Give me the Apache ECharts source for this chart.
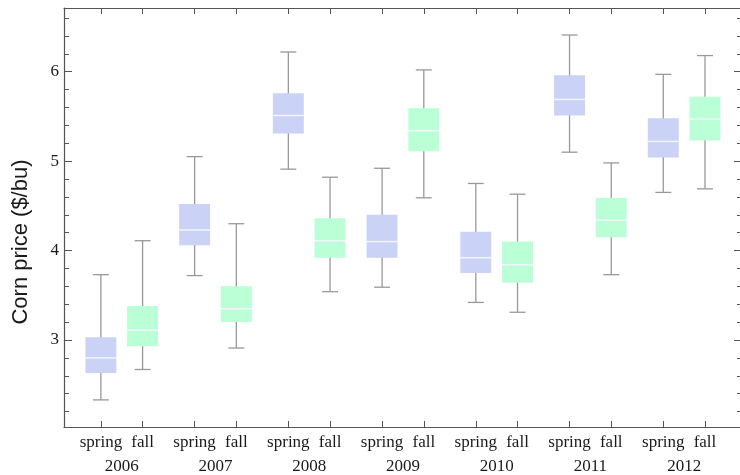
<!DOCTYPE html>
<html>
<head>
<meta charset="utf-8">
<script src="https://cdn.jsdelivr.net/npm/echarts@6/dist/echarts.min.js"></script>
<style>html,body{margin:0;padding:0;background:#fff;overflow:hidden;}#chart{width:743px;height:475px;}</style>
</head>
<body>
<div id="chart"></div>
<script>
// ---- data ----
const years = [2006, 2007, 2008, 2009, 2010, 2011, 2012];
const seasons = ['spring', 'fall'];
// [low whisker, Q1, median, Q3, high whisker]
const springStats = [
  [2.33, 2.63, 2.80, 3.03, 3.73],
  [3.72, 4.06, 4.23, 4.52, 5.05],
  [4.91, 5.31, 5.51, 5.76, 6.22],
  [3.59, 3.92, 4.10, 4.40, 4.92],
  [3.42, 3.75, 3.92, 4.21, 4.75],
  [5.10, 5.51, 5.69, 5.96, 6.41],
  [4.65, 5.04, 5.22, 5.48, 5.97]
];
const fallStats = [
  [2.67, 2.93, 3.11, 3.38, 4.11],
  [2.91, 3.20, 3.35, 3.60, 4.30],
  [3.54, 3.92, 4.11, 4.36, 4.82],
  [4.59, 5.11, 5.34, 5.59, 6.02],
  [3.31, 3.64, 3.84, 4.10, 4.63],
  [3.73, 4.15, 4.34, 4.59, 4.98],
  [4.69, 5.23, 5.47, 5.72, 6.18]
];
const yMajorTicks = [3, 4, 5, 6];
const yMinorTicks = [2.2, 2.4, 2.6, 2.8, 3.2, 3.4, 3.6, 3.8, 4.2, 4.4, 4.6, 4.8, 5.2, 5.4, 5.6, 5.8, 6.2, 6.4, 6.6];
const yName = 'Corn price ($/bu)';

// ---- layout constants ----
const SEASON_OFFSET = 0.2225;
const BOX_W = 0.33;
const CAP_W = 0.17;
const X_MIN = 2005.384, X_MAX = 2012.628;
const Y_MIN = 2.027, Y_MAX = 6.712;
const FRAME = '#555';
const TXT = '#1a1a1a';
const SERIF = 'Liberation Serif';

const springPos = years.map(y => y - SEASON_OFFSET);
const fallPos = years.map(y => y + SEASON_OFFSET);
const allPos = springPos.concat(fallPos).sort((a, b) => a - b);

function mkData(pos, stats) {
  return pos.map((x, i) => [x].concat(stats[i]));
}

function renderBox(fill) {
  return function (params, api) {
    const x = api.value(0);
    const lo = api.coord([x, api.value(1)]);
    const q1 = api.coord([x, api.value(2)]);
    const md = api.coord([x, api.value(3)]);
    const q3 = api.coord([x, api.value(4)]);
    const hi = api.coord([x, api.value(5)]);
    const bw = api.size([BOX_W, 0])[0];
    const cw = api.size([CAP_W, 0])[0];
    const cx = lo[0];
    const lineStyle = { stroke: '#999', lineWidth: 1.3 };
    return {
      type: 'group',
      children: [
        { type: 'line', shape: { x1: cx, y1: hi[1], x2: cx, y2: lo[1] }, style: lineStyle },
        { type: 'line', shape: { x1: cx - cw / 2, y1: hi[1], x2: cx + cw / 2, y2: hi[1] }, style: lineStyle },
        { type: 'line', shape: { x1: cx - cw / 2, y1: lo[1], x2: cx + cw / 2, y2: lo[1] }, style: lineStyle },
        { type: 'rect', shape: { x: cx - bw / 2, y: q3[1], width: bw, height: q1[1] - q3[1] }, style: { fill: fill } },
        { type: 'line', shape: { x1: cx - bw / 2, y1: md[1], x2: cx + bw / 2, y2: md[1] }, style: { stroke: '#f4f6ff', lineWidth: 1.5 } }
      ]
    };
  };
}

const chart = echarts.init(document.getElementById('chart'), null, { renderer: 'canvas' });

const baseX = { type: 'value', min: X_MIN, max: X_MAX, splitLine: { show: false } };
const baseY = { type: 'value', min: Y_MIN, max: Y_MAX, splitLine: { show: false } };

chart.setOption({
  animation: false,
  backgroundColor: '#fff',
  grid: { left: 64, right: 0, top: 8, bottom: 48, containLabel: false },
  xAxis: [
    Object.assign({}, baseX, {
      position: 'bottom',
      axisLine: { show: true, lineStyle: { color: FRAME, width: 1.2 } },
      axisTick: { show: true, inside: true, length: 6, customValues: allPos, lineStyle: { color: FRAME } },
      axisLabel: {
        show: true, customValues: allPos, margin: 7,
        color: TXT, fontFamily: SERIF, fontSize: 17,
        formatter: v => (v < Math.round(v) ? seasons[0] : seasons[1])
      }
    }),
    Object.assign({}, baseX, {
      position: 'bottom',
      axisLine: { show: false }, axisTick: { show: false },
      axisLabel: { show: true, customValues: years, margin: 31, color: TXT, fontFamily: SERIF, fontSize: 17, formatter: v => String(Math.round(v)) }
    }),
    Object.assign({}, baseX, {
      position: 'top',
      axisLine: { show: true, lineStyle: { color: FRAME, width: 1.2 } },
      axisTick: { show: true, inside: true, length: 6, customValues: allPos, lineStyle: { color: FRAME } },
      axisLabel: { show: false }
    })
  ],
  yAxis: [
    Object.assign({}, baseY, {
      position: 'left',
      axisLine: { show: true, lineStyle: { color: FRAME, width: 1.2 } },
      axisTick: { show: true, inside: true, length: 8, customValues: yMajorTicks, lineStyle: { color: FRAME } },
      axisLabel: { show: true, customValues: yMajorTicks, margin: 5, color: TXT, fontFamily: SERIF, fontSize: 17 }
    }),
    Object.assign({}, baseY, {
      position: 'left',
      axisLine: { show: false },
      axisTick: { show: true, inside: true, length: 5, customValues: yMinorTicks, lineStyle: { color: FRAME } },
      axisLabel: { show: false }
    }),
    Object.assign({}, baseY, {
      position: 'right',
      axisLine: { show: true, lineStyle: { color: FRAME, width: 1.2 } },
      axisTick: { show: true, inside: true, length: 9, customValues: yMajorTicks, lineStyle: { color: FRAME } },
      axisLabel: { show: false }
    }),
    Object.assign({}, baseY, {
      position: 'right',
      axisLine: { show: false },
      axisTick: { show: true, inside: true, length: 6, customValues: yMinorTicks, lineStyle: { color: FRAME } },
      axisLabel: { show: false }
    })
  ],
  graphic: [{
    type: 'text', x: 21, y: 242, rotation: Math.PI / 2,
    style: { text: yName, fontFamily: 'Liberation Sans', fontSize: 22, fill: TXT, align: 'center', verticalAlign: 'middle' }
  }],
  series: [
    { name: seasons[0], type: 'custom', xAxisIndex: 0, yAxisIndex: 0, renderItem: renderBox('#cad2f5'),
      encode: { x: 0, y: [1, 2, 3, 4, 5] }, data: mkData(springPos, springStats) },
    { name: seasons[1], type: 'custom', xAxisIndex: 0, yAxisIndex: 0, renderItem: renderBox('#baffd6'),
      encode: { x: 0, y: [1, 2, 3, 4, 5] }, data: mkData(fallPos, fallStats) }
  ]
});
</script>
</body>
</html>
